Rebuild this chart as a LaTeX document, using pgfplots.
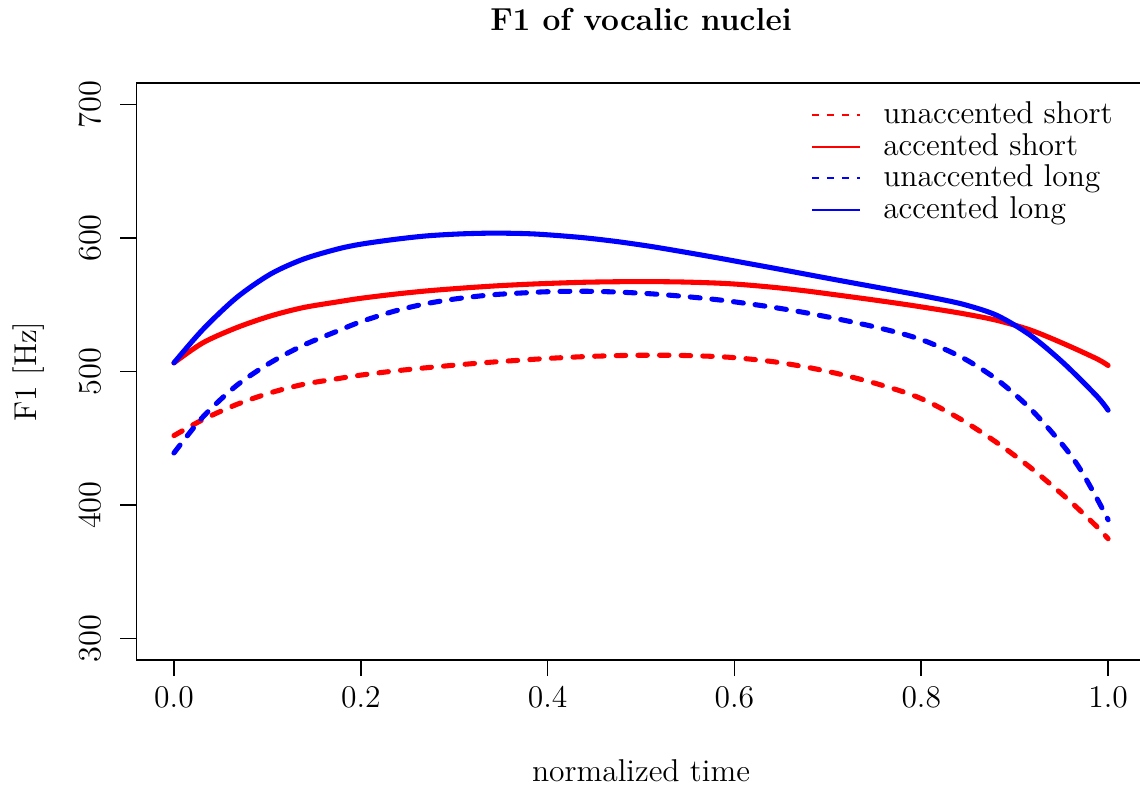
\documentclass[border=0pt]{standalone}
\usepackage{fontspec}
\usepackage{pgfplots}
\pgfplotsset{compat=1.18}
\begin{document}
\begin{tikzpicture}
\begin{axis}[
  scale only axis, width=447.7pt, height=256.05pt,
  xmin=-0.04, xmax=1.04, ymin=284, ymax=716,
  axis line style={line width=0.75pt, black},
  xtick={0,0.2,0.4,0.6,0.8,1}, ytick={300,400,500,600,700},
  xticklabels={0.0,0.2,0.4,0.6,0.8,1.0},
  tick align=outside, xtick pos=bottom, ytick pos=left,
  major tick length=7.2pt,
  tick style={black, line width=0.75pt},
  xticklabel style={font=\fontsize{14}{16}\selectfont, anchor=base, yshift=-13.7pt},
  yticklabel style={font=\fontsize{14}{16}\selectfont, xshift=-8.9pt, rotate=90, anchor=base},
  every axis title/.style={at={(axis description cs:0.5,1)}, yshift=23.5pt, anchor=base, font=\fontsize{14.1}{17}\selectfont\bfseries},
  every axis x label/.style={at={(axis description cs:0.5,0)}, yshift=-53.7pt, anchor=base, font=\fontsize{14}{16}\selectfont},
  every axis y label/.style={at={(axis description cs:0,0.5)}, xshift=-44.6pt, rotate=90, anchor=base, font=\fontsize{14}{16}\selectfont},
  title={F1 of vocalic nuclei},
  xlabel={normalized time},
  ylabel={F1 [Hz]},
  legend image code/.code={\draw[#1] (0pt,0.3pt) -- (21.3pt,0.3pt);},
  legend cell align=left,
  legend style={draw=none, fill=none, at={(axis description cs:0,1)}, anchor=north west,
    xshift=299.3pt, yshift=-8.2pt, inner sep=0pt,
    font=\fontsize{14}{16}\selectfont,
    nodes={inner sep=0pt, text height=9.7pt, text depth=2.7pt},
    row sep=1.6pt,
    /tikz/every odd column/.append style={column sep=9.8pt}},
]
\coordinate (bl) at (rel axis cs:0,0);
% unaccented short
\addplot[red, line width=2.25pt, line cap=round, dash pattern=on 4.2pt off 5.4pt, smooth, forget plot] table {
0 452
0.031 464
0.067 475.3
0.103 484
0.138 490.3
0.174 494.5
0.199 497.2
0.235 500.3
0.270 502.8
0.306 505.1
0.342 507.1
0.378 508.8
0.403 509.9
0.438 511.1
0.474 511.9
0.510 512.2
0.545 512
0.581 511.2
0.606 510
0.642 507.3
0.677 503.3
0.713 498
0.749 491.5
0.784 484.0
0.809 476.8
0.845 463.1
0.881 446.7
0.917 428.0
0.952 407.4
0.970 395.9
0.988 383.8
1.0 374.8
};
% accented short
\addplot[red, line width=2.25pt, line cap=round, smooth, forget plot] table {
0 506.5
0.031 521.5
0.067 532.8
0.103 541.5
0.138 547.8
0.174 552
0.199 554.7
0.235 557.8
0.270 560.3
0.306 562.3
0.342 564
0.378 565.3
0.403 566
0.438 566.8
0.474 567.2
0.510 567.3
0.545 567.0
0.581 566.2
0.606 565.2
0.642 563.0
0.677 560.3
0.713 557.0
0.749 553.6
0.784 550.1
0.809 547.4
0.845 543.3
0.881 538.3
0.917 531.0
0.952 521.0
0.988 509.5
1.0 504.5
};
% unaccented long
\addplot[blue, line width=2.25pt, line cap=round, dash pattern=on 4.4pt off 5.25pt, smooth, forget plot] table {
0 439
0.031 466
0.067 489.5
0.103 506.5
0.138 519.5
0.174 530
0.199 537
0.235 545
0.270 550.8
0.306 554.8
0.342 557.5
0.378 559
0.403 559.8
0.438 560.1
0.474 559.5
0.510 558.2
0.545 556.3
0.581 553.8
0.606 551.6
0.642 548.0
0.677 543.9
0.713 539.0
0.749 533.6
0.784 527.4
0.809 521.5
0.845 510
0.881 494
0.917 472
0.952 444.5
0.970 427
0.988 405
1.0 389
};
% accented long
\addplot[blue, line width=2.25pt, line cap=round, smooth, forget plot] table {
0 506.5
0.031 531.5
0.067 555.3
0.103 572.8
0.138 584
0.174 591.5
0.199 595.2
0.235 598.8
0.270 601.5
0.306 603.0
0.342 603.6
0.378 603.2
0.403 602.2
0.438 600.2
0.474 597.3
0.510 593.7
0.545 589.6
0.581 585.2
0.606 582
0.642 577.4
0.677 572.8
0.713 568.1
0.749 563.5
0.784 559.0
0.809 555.7
0.845 550.3
0.881 542.0
0.917 527
0.952 506.5
0.988 481.5
1.0 471
};
\addlegendimage{red, line width=0.75pt, dash pattern=on 3pt off 3.65pt}
\addlegendentry{unaccented short}
\addlegendimage{red, line width=0.75pt}
\addlegendentry{accented short}
\addlegendimage{blue, line width=0.75pt, dash pattern=on 3pt off 3.65pt}
\addlegendentry{unaccented long}
\addlegendimage{blue, line width=0.75pt}
\addlegendentry{accented long}
\end{axis}
\pgfresetboundingbox
\useasboundingbox ([shift={(-60.62pt,-57.25pt)}]bl) rectangle ([shift={(445.28pt,292.89pt)}]bl);
\end{tikzpicture}
\end{document}
